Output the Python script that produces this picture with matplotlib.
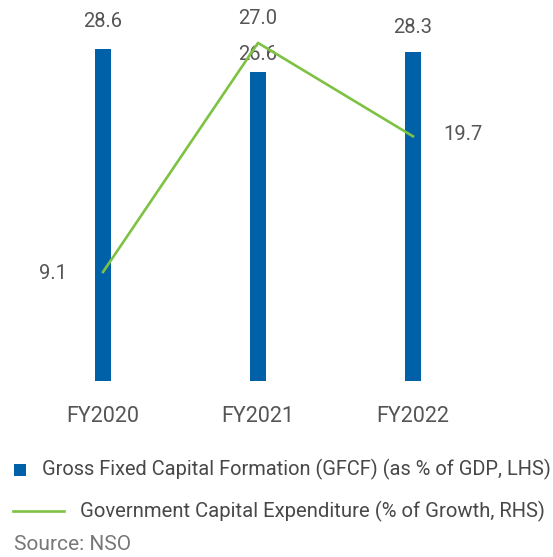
import matplotlib
matplotlib.use("Agg")
import matplotlib.pyplot as plt
from matplotlib.patches import Rectangle
from matplotlib.lines import Line2D

categories = ["FY2020", "FY2021", "FY2022"]
gfcf = [28.6, 26.6, 28.3]
capex = [9.1, 27.0, 19.7]
legend_labels = ["Gross Fixed Capital Formation (GFCF) (as % of GDP, LHS)",
                 "Government Capital Expenditure (% of Growth, RHS)"]
source_text = "Source: NSO"

BLUE = "#0061A8"
GREEN = "#7DC242"
GREY = "#555555"
plt.rcParams['font.family'] = ['Roboto', 'DejaVu Sans']

W, H = 553, 557
fig = plt.figure(figsize=(W / 100, H / 100), dpi=100)
ax_left, ax_right_px = 25.5, 490.5
ax_top, ax_bottom = 20, 381
ax = fig.add_axes([ax_left / W, 1 - ax_bottom / H, (ax_right_px - ax_left) / W, (ax_bottom - ax_top) / H])
x = list(range(len(categories)))
ax.bar(x, gfcf, width=0.107, color=BLUE, zorder=2)
ax.set_xlim(-0.5, 2.5)
ax.set_ylim(0, (ax_bottom - ax_top) / 11.61)

ax2 = ax.twinx()
ax2.plot(x, capex, color=GREEN, lw=1.9, zorder=3)
ax2.set_ylim((388.5 - ax_bottom) / 12.8, (388.5 - ax_top) / 12.8)

for a in (ax, ax2):
    for s in a.spines.values():
        s.set_visible(False)
    a.set_yticks([])
ax.set_xticks(x)
ax.set_xticklabels(categories, fontsize=15.5, color=GREY)
ax.tick_params(axis='x', length=0, pad=18)

bar_offsets = [(0, 19.5), (0, 13), (0, 18)]
for xi, v, off in zip(x, gfcf, bar_offsets):
    ax.annotate(f"{v:.1f}", (xi, v), xytext=off, textcoords='offset points',
                ha='center', va='center', fontsize=14.5, color=GREY)
line_offsets = [(-36, -1), (0, 17.5), (36, 1)]
for xi, v, off in zip(x, capex, line_offsets):
    ax2.annotate(f"{v:.1f}", (xi, v), xytext=off, textcoords='offset points',
                 ha='center', va='center', fontsize=14.5, color=GREY)

# legend
fig.patches.append(Rectangle((13.5 / W, 1 - 475.5 / H), 12 / W, 12 / H, transform=fig.transFigure,
                             facecolor=BLUE, edgecolor='none'))
fig.text(42 / W, 1 - 469 / H, legend_labels[0], fontsize=14.4, color="#484848", va='center', ha='left')
fig.lines.append(Line2D([13 / W, 64 / W], [1 - 511 / H, 1 - 511 / H], transform=fig.transFigure,
                        color=GREEN, lw=1.9))
fig.text(80 / W, 1 - 511 / H, legend_labels[1], fontsize=14.6, color="#484848", va='center', ha='left')
fig.text(14 / W, 1 - 544 / H, source_text, fontsize=15, color="#777777", va='center', ha='left')

fig.savefig("out.png", dpi=100)
